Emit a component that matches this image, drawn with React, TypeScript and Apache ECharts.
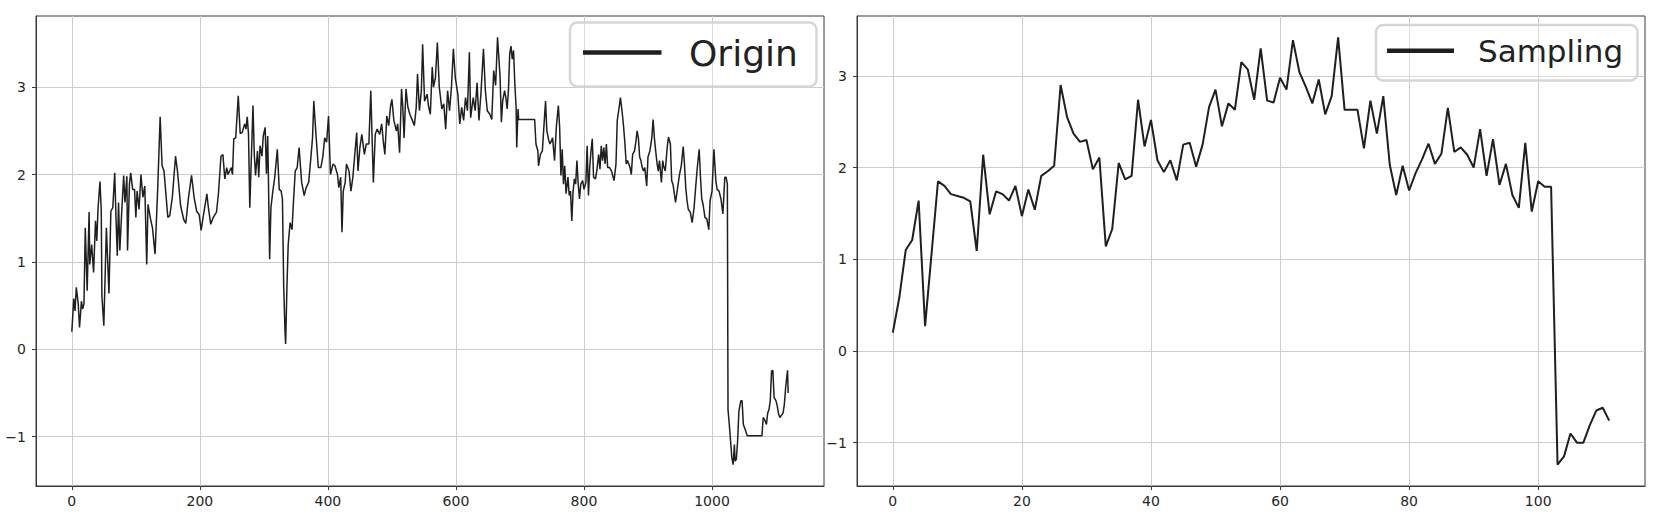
import React, { useEffect, useRef } from "react";
import * as echarts from "echarts";

// ---- data ----
const originIndex = [
  0, 3, 5, 7, 10, 12, 15, 17, 19, 21, 24, 27, 28, 31, 34, 37, 39, 41, 44, 46, 47, 50, 54, 58, 61, 64, 67, 69, 71, 73,
  75, 78, 81, 83, 86, 87, 90, 92, 95, 98, 100, 102, 105, 108, 111, 114, 117, 119, 123, 126, 130, 134, 138, 141, 144,
  150, 153, 157, 162, 165, 170, 175, 178, 182, 187, 191, 195, 199, 202, 205, 211, 213, 217, 221, 226, 229, 233, 236,
  239, 242, 244, 249, 251, 253, 256, 260, 263, 266, 270, 272, 274, 276, 278, 283, 285, 287, 290, 292, 294, 297, 299,
  302, 304, 306, 307,
  309, 311, 314, 317, 321, 324, 327, 329, 331, 333, 334, 336, 338, 341, 344, 346, 349, 352, 355, 359, 363, 366, 370,
  373, 376, 378, 381, 385, 389, 392, 395, 398, 401, 404, 408, 411, 415, 417, 420, 422, 424, 427, 429, 433, 436, 439,
  442, 445, 447, 450, 453, 457, 460, 464, 467, 471, 474, 477, 481, 484, 487, 489, 492, 495, 498, 500, 503, 507, 509,
  512, 515, 517, 519, 522, 525, 528, 532, 535, 538, 540, 543, 546, 548, 551, 555, 557, 560, 563, 565, 568, 571, 574,
  578, 581, 584, 587, 590, 593, 596, 599, 603, 606, 609, 612, 615, 618, 621, 623, 627, 630, 633, 636, 639, 643, 646,
  649, 653, 656, 659, 662, 665,
  669, 671, 673, 676, 678, 680, 682, 684, 686, 688, 690, 692, 694, 695, 697, 698, 723, 725, 728, 729, 732, 735, 737,
  740, 742, 745, 747, 751, 754, 757, 760, 762, 764, 766, 768, 770, 772, 775, 777, 779, 781, 783, 785, 787, 789, 791,
  793, 795, 798, 800, 803, 805, 807, 809, 811, 813, 815, 818, 820, 823, 825, 827, 829, 831, 833, 835, 837, 840, 843,
  847, 850, 852, 855, 857, 860, 862, 864, 866, 868, 872, 874, 876, 879, 881, 883, 885, 887, 889, 891, 893, 895, 898,
  900, 903, 906, 908, 910, 912, 914, 916, 918, 921, 923, 925, 927, 930, 932, 935, 937, 939, 941, 943, 946, 949, 952,
  955, 957, 959, 961, 963, 966, 969, 972, 974, 977, 980, 982, 984, 986, 989, 992, 995, 997, 1000, 1003,
  1006, 1008, 1011, 1014, 1017, 1020, 1022, 1024, 1025, 1027, 1029, 1031, 1033, 1035, 1036, 1038, 1040, 1042, 1045,
  1047, 1049, 1052, 1055, 1078, 1080, 1083, 1085, 1087, 1089, 1091, 1093, 1095, 1097, 1100, 1102, 1104, 1106, 1108,
  1111, 1113, 1115, 1118, 1119,
];

const originValue = [
  0.2, 0.58, 0.44, 0.71, 0.52, 0.25, 0.55, 0.46, 0.52, 1.39, 0.67, 1.57, 0.97, 1.2, 0.88, 1.47, 1.24, 1.62, 1.92, 1.58,
  0.61, 0.27, 1.39, 0.64, 1.58, 1.62, 2.02, 1.51, 1.07, 1.68, 1.13, 1.58, 1.99, 1.68, 1.98, 1.13, 1.89, 2.02, 1.83,
  1.83, 1.51, 1.81, 1.6, 2.0, 1.74, 1.87, 0.97, 1.66, 1.49, 1.39, 1.09, 1.81, 2.66, 2.1, 2.04, 1.51, 1.53, 1.74, 2.21,
  2.04, 1.64, 1.48, 1.44, 1.72, 1.99, 1.74, 1.58, 1.54, 1.36, 1.51, 1.78, 1.64, 1.43, 1.51, 1.57, 1.78, 2.21, 2.23,
  1.95, 2.08, 2.0, 2.08, 2.0, 2.41, 2.42, 2.9, 2.47, 2.48, 2.58, 2.52, 2.66, 2.46, 1.62, 2.79, 2.23, 1.99, 2.27, 1.97,
  2.33, 2.21, 2.44, 2.54, 2.01, 2.44, 2.0,
  1.03, 1.62, 1.81, 1.97, 2.29, 1.83, 1.81, 1.72, 0.71, 0.21, 0.06, 0.71, 1.2, 1.45, 1.37, 1.66, 2.04, 2.08, 2.31, 1.91,
  1.76, 1.85, 1.91, 2.16, 2.42, 2.84, 2.5, 2.08, 2.08, 2.2, 2.42, 2.37, 2.67, 2.0, 2.12, 2.1, 2.0, 1.85, 1.97, 1.34,
  1.81, 1.91, 2.12, 2.04, 1.81, 1.97, 2.23, 2.48, 2.04, 2.31, 2.46, 2.23, 2.35, 2.35, 2.96, 1.91, 2.46, 2.52, 2.46,
  2.58, 2.35, 2.23, 2.67, 2.56, 2.79, 2.86, 2.62, 2.5, 2.58, 2.25, 2.98, 2.77, 2.42, 2.98, 2.77, 2.69, 2.62, 2.56,
  2.77, 3.15, 2.73, 2.96, 3.49, 2.84, 2.92, 2.79, 2.69, 3.23, 3.0, 3.11, 3.51, 3.0, 2.75, 2.81, 2.52, 2.96, 2.73, 3.0,
  3.44, 3.11, 2.92, 2.58, 2.77, 2.62, 2.88, 2.73, 3.4, 2.65, 2.88, 2.73, 3.05, 2.62, 2.92, 3.44, 2.96, 2.73, 2.69,
  2.63, 3.19, 3.02, 3.57,
  3.11, 2.6, 2.84, 2.96, 2.88, 2.75, 2.96, 3.38, 3.47, 3.32, 3.42, 3.04, 2.77, 2.31, 2.75, 2.63, 2.63, 2.35, 2.27, 2.1,
  2.23, 2.27, 2.5, 2.84, 2.5, 2.39, 2.35, 2.42, 2.16, 2.56, 2.79, 2.54, 1.99, 2.29, 1.89, 2.1, 1.78, 1.97, 1.76, 1.81,
  1.47, 1.81, 1.95, 1.89, 2.16, 1.89, 1.72, 1.89, 1.93, 1.83, 1.91, 2.33, 1.76, 2.08, 2.27, 2.41, 1.97, 1.95, 2.04,
  2.23, 2.06, 2.33, 2.16, 2.31, 2.12, 2.35, 2.08, 2.08, 2.04, 1.93, 2.12, 2.62, 2.77, 2.88, 2.69, 2.54, 2.35, 2.12,
  2.16, 2.08, 2.0, 2.23, 2.27, 2.37, 2.5, 2.42, 2.2, 2.16, 2.08, 2.04, 2.08, 1.87, 2.2, 2.27, 2.42, 2.63, 2.42, 2.27,
  2.14, 2.04, 2.16, 1.91, 2.16, 2.08, 2.04, 2.31, 2.43, 2.35, 1.93, 1.89, 1.79, 1.68, 1.83, 1.99, 2.1, 2.32, 2.12,
  1.85, 1.7, 1.6, 1.57, 1.45, 1.62, 1.81, 2.08, 2.29, 1.97, 1.72, 1.66, 1.51, 1.49, 1.37, 1.7, 1.81, 2.29,
  1.93, 1.83, 1.81, 1.72, 1.55, 1.97, 1.97, 1.89, -0.69, -0.86, -1.05, -1.24, -1.32, -1.09, -1.28, -1.26, -1.05,
  -0.71, -0.59, -0.59, -0.86, -0.92, -0.99, -0.99, -0.78, -0.82, -0.86, -0.73, -0.69, -0.59, -0.25, -0.24, -0.55,
  -0.59, -0.65, -0.74, -0.78, -0.76, -0.73, -0.63, -0.44, -0.24, -0.5,
];

const samplingValue = [
  0.2, 0.58, 1.1, 1.21, 1.64, 0.27, 1.06, 1.85, 1.8, 1.71,
  1.69, 1.67, 1.63, 1.09, 2.14, 1.49, 1.74, 1.71, 1.64, 1.8,
  1.47, 1.76, 1.54, 1.91, 1.96, 2.02, 2.9, 2.55, 2.37, 2.28,
  2.3, 1.98, 2.11, 1.14, 1.33, 2.05, 1.87, 1.91, 2.74, 2.23,
  2.52, 2.08, 1.95, 2.08, 1.86, 2.25, 2.27, 2.01, 2.25, 2.66,
  2.85, 2.45, 2.7, 2.63, 3.15, 3.07, 2.74, 3.3, 2.73, 2.71,
  2.98, 2.85, 3.39, 3.04, 2.88, 2.7, 2.96, 2.58, 2.78, 3.42,
  2.63, 2.63, 2.63, 2.21, 2.73, 2.37, 2.78, 2.03, 1.7, 2.02,
  1.75, 1.94, 2.09, 2.26, 2.04, 2.15, 2.65, 2.17, 2.22, 2.14,
  2.0, 2.42, 1.91, 2.31, 1.81, 2.04, 1.7, 1.56, 2.27, 1.52,
  1.85, 1.79, 1.79, -1.24, -1.15, -0.9, -1.0, -1.0, -0.81, -0.65,
  -0.62, -0.76,
];

const originTicks = [0, 200, 400, 600, 800, 1000];
const samplingTicks = [0, 20, 40, 60, 80, 100];
const valueTicks = [-1, 0, 1, 2, 3];
const legendNames = ["Origin", "Sampling"];

const FONT = "'DejaVu Sans', 'Noto Sans', sans-serif";
const LINE = "#1f1f1f";
const SPINE = "#3a3a3a";
const GRIDC = "#cccccc";

const fmt = (v: number) => (v < 0 ? "\u2212" + Math.abs(v) : String(v));

// matplotlib-like 5% auto margins
const padRange = (lo: number, hi: number) => {
  const m = (hi - lo) * 0.05;
  return [lo - m, hi + m];
};

export default function App() {
  const ref = useRef<HTMLDivElement>(null);

  useEffect(() => {
    const chart = echarts.init(ref.current!, null, { renderer: "svg" });

    const ox = padRange(originIndex[0], originIndex[originIndex.length - 1]);
    const oy = padRange(Math.min(...originValue), Math.max(...originValue));
    const sx = padRange(0, samplingValue.length - 1);
    const sy = padRange(Math.min(...samplingValue), Math.max(...samplingValue));

    const mkAxis = (gridIndex: number, range: number[], ticks: number[], isX: boolean) => ({
      type: "value",
      gridIndex,
      min: range[0],
      max: range[1],
      axisLine: { show: true, onZero: false, lineStyle: { color: SPINE, width: 1 } },
      axisTick: {
        show: true,
        inside: false,
        length: 4,
        customValues: ticks,
        lineStyle: { color: SPINE, width: 1 },
      },
      axisLabel: {
        customValues: ticks,
        formatter: fmt,
        fontSize: 14,
        color: "#262626",
        fontFamily: FONT,
        margin: isX ? 8 : 10,
      },
      splitLine: { show: true, lineStyle: { color: GRIDC, width: 1 } },
    });

    const originData = originIndex.map((x, i) => [x, originValue[i]]);
    const samplingData = samplingValue.map((v, i) => [i, v]);

    chart.setOption({
      animation: false,
      backgroundColor: "#ffffff",
      textStyle: { fontFamily: FONT },
      grid: [
        { left: 36, top: 16, width: 788, height: 470, show: true, borderColor: SPINE, borderWidth: 1, backgroundColor: "transparent" },
        { left: 857, top: 16, width: 788, height: 470, show: true, borderColor: SPINE, borderWidth: 1, backgroundColor: "transparent" },
      ],
      xAxis: [mkAxis(0, ox, originTicks, true), mkAxis(1, sx, samplingTicks, true)],
      yAxis: [mkAxis(0, oy, valueTicks, false), mkAxis(1, sy, valueTicks, false)],
      series: [
        {
          name: legendNames[0],
          type: "line",
          xAxisIndex: 0,
          yAxisIndex: 0,
          data: originData,
          showSymbol: false,
          symbol: "none",
          lineStyle: { color: LINE, width: 1.5 },
        },
        {
          name: legendNames[1],
          type: "line",
          xAxisIndex: 1,
          yAxisIndex: 1,
          data: samplingData,
          showSymbol: false,
          symbol: "none",
          lineStyle: { color: LINE, width: 2 },
        },
      ],
      graphic: [
        {
          type: "rect",
          z: 100,
          shape: { x: 570, y: 22.5, width: 246.5, height: 64, r: 7 },
          style: { fill: "rgba(255,255,255,0.3)", stroke: "#d6d6d6", lineWidth: 2.5 },
        },
        {
          type: "line",
          z: 101,
          shape: { x1: 583, y1: 52.5, x2: 661.5, y2: 52.5 },
          style: { stroke: LINE, lineWidth: 4.5 },
        },
        {
          type: "text",
          z: 101,
          x: 689,
          y: 53,
          style: { text: legendNames[0], fontSize: 36, fontFamily: FONT, fill: "#222222", align: "left", verticalAlign: "middle" },
        },
        {
          type: "rect",
          z: 100,
          shape: { x: 1376, y: 25, width: 261.5, height: 55.5, r: 7 },
          style: { fill: "rgba(255,255,255,0.3)", stroke: "#d6d6d6", lineWidth: 2.5 },
        },
        {
          type: "line",
          z: 101,
          shape: { x1: 1387, y1: 50.7, x2: 1454, y2: 50.7 },
          style: { stroke: LINE, lineWidth: 4.5 },
        },
        {
          type: "text",
          z: 101,
          x: 1478,
          y: 50.5,
          style: { text: legendNames[1], fontSize: 31, fontFamily: FONT, fill: "#222222", align: "left", verticalAlign: "middle" },
        },
      ],
    });

    return () => chart.dispose();
  }, []);

  return (
    <div
      ref={ref}
      style={{ position: "absolute", left: 0, top: 0, width: 1660, height: 521, background: "#ffffff" }}
    />
  );
}
